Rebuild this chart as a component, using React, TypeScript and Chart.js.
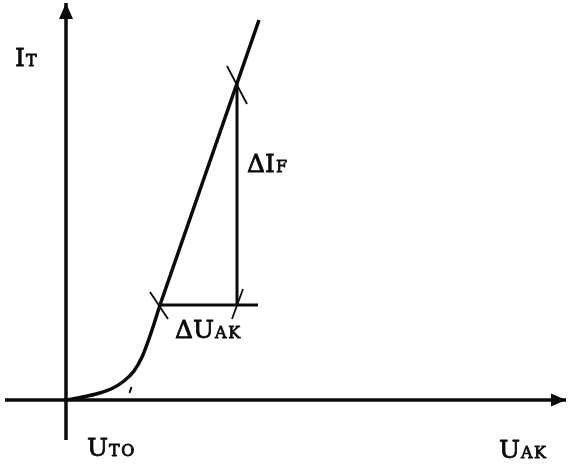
import React, { useEffect, useRef } from "react";
import { Chart, registerables } from "chart.js";

Chart.register(...registerables);

// Forward characteristic of a thyristor: on-state current I_T against anode-cathode voltage U_AK
const kneeU = [0, 0.12, 0.3, 0.45, 0.58, 0.68, 0.76, 0.84, 0.94];
const kneeI = [0, 0.02, 0.06, 0.11, 0.19, 0.29, 0.43, 0.64, 0.95];

// straight (resistive) part of the characteristic
const slopeU = [0.94, 1.93];
const slopeI = [0.95, 3.8];

// threshold voltage where the extended straight part meets the voltage axis
const U_T0 = 0.61;

// slope triangle: ΔU_AK along the bottom, ΔI_F up the side
const triU = [0.94, 1.71];
const triI = [0.95, 3.17];
const triOverhang = 1.92;

// axis extents
const axisU = [-0.61, 5.0];
const axisI = [-0.4, 3.97];

const ink = "#0a0a0a";

const pts = (xs: number[], ys: number[]) => xs.map((x, i) => ({ x, y: ys[i] }));
const tangentI = (u: number) => ((slopeI[1] - slopeI[0]) / (slopeU[1] - slopeU[0])) * (u - U_T0);

type Label = { u: number; i: number; main: string; sub: string };
const labels: Label[] = [
  { u: -0.51, i: 3.34, main: "I", sub: "T" },
  { u: 1.81, i: 2.28, main: "ΔI", sub: "F" },
  { u: 1.09, i: 0.62, main: "ΔU", sub: "AK" },
  { u: 0.21, i: -0.56, main: "U", sub: "TO" },
  { u: 4.33, i: -0.58, main: "U", sub: "AK" },
];

const line = (data: { x: number; y: number }[], width: number, extra: object = {}) => ({
  data,
  showLine: true,
  borderColor: ink,
  backgroundColor: ink,
  borderWidth: width,
  pointRadius: 0,
  tension: 0,
  borderCapStyle: "butt" as const,
  ...extra,
});

const arrowsAndLabels = {
  id: "arrowsAndLabels",
  afterDatasetsDraw(chart: any) {
    const { ctx, scales } = chart;
    const xs = scales.x;
    const ys = scales.y;
    ctx.save();
    ctx.fillStyle = ink;
    ctx.strokeStyle = ink;

    // arrow on the voltage axis
    const ax = xs.getPixelForValue(axisU[1]);
    const ay = ys.getPixelForValue(0);
    ctx.beginPath();
    ctx.moveTo(ax, ay);
    ctx.lineTo(ax - 15, ay - 6.5);
    ctx.lineTo(ax - 15, ay + 6.5);
    ctx.closePath();
    ctx.fill();

    // arrow on the current axis
    const bx = xs.getPixelForValue(0);
    const by = ys.getPixelForValue(axisI[1]);
    ctx.beginPath();
    ctx.moveTo(bx, by);
    ctx.lineTo(bx - 7, by + 16);
    ctx.lineTo(bx + 7, by + 16);
    ctx.closePath();
    ctx.fill();

    // symbols with small-capital subscripts
    ctx.textBaseline = "alphabetic";
    ctx.textAlign = "left";
    ctx.lineWidth = 0.8;
    ctx.lineJoin = "round";
    for (const l of labels) {
      const px = xs.getPixelForValue(l.u);
      const py = ys.getPixelForValue(l.i);
      ctx.font = "25px 'DejaVu Serif'";
      (ctx as any).letterSpacing = "0px";
      ctx.fillText(l.main, px, py);
      ctx.strokeText(l.main, px, py);
      const w = ctx.measureText(l.main).width;
      ctx.font = "16px 'DejaVu Serif'";
      (ctx as any).letterSpacing = "1.5px";
      ctx.fillText(l.sub, px + w + 1, py);
      ctx.strokeText(l.sub, px + w + 1, py);
    }
    ctx.restore();
  },
};

export default function App() {
  const ref = useRef<HTMLCanvasElement | null>(null);

  useEffect(() => {
    if (!ref.current) return;
    const chart = new Chart(ref.current, {
      type: "scatter",
      data: {
        datasets: [
          line(pts(axisU, [0, 0]), 3.5),
          line(pts([0, 0], axisI), 3.5),
          line(pts(kneeU, kneeI), 3.5, { tension: 0.4, cubicInterpolationMode: "monotone" }),
          line(pts(slopeU, slopeI), 3.5),
          line(pts([0.635, 0.655], [tangentI(0.635), tangentI(0.655)]), 2),
          line(pts([triU[0], triOverhang], [triI[0], triI[0]]), 3),
          line(pts([triU[1], triU[1]], triI), 3),
          // crossing marks at the ends of the slope triangle
          line(pts([0.84, 1.02], [1.08, 0.81]), 1.8),
          line(pts([1.77, 1.66], [1.11, 0.81]), 1.8),
          line(pts([1.61, 1.81], [3.34, 2.96]), 1.8),
        ] as any,
      },
      options: {
        animation: false,
        responsive: false,
        devicePixelRatio: 1,
        layout: { padding: 0 },
        plugins: { legend: { display: false }, tooltip: { enabled: false } },
        scales: {
          x: { type: "linear", min: -0.66, max: 5.11, display: false },
          y: { type: "linear", min: -0.69, max: 4.0, display: false },
        },
      },
      plugins: [arrowsAndLabels],
    });
    return () => chart.destroy();
  }, []);

  return (
    <div style={{ position: "fixed", left: 0, top: 0, width: 577, height: 469, background: "#fff" }}>
      <canvas ref={ref} width={577} height={469} />
    </div>
  );
}
